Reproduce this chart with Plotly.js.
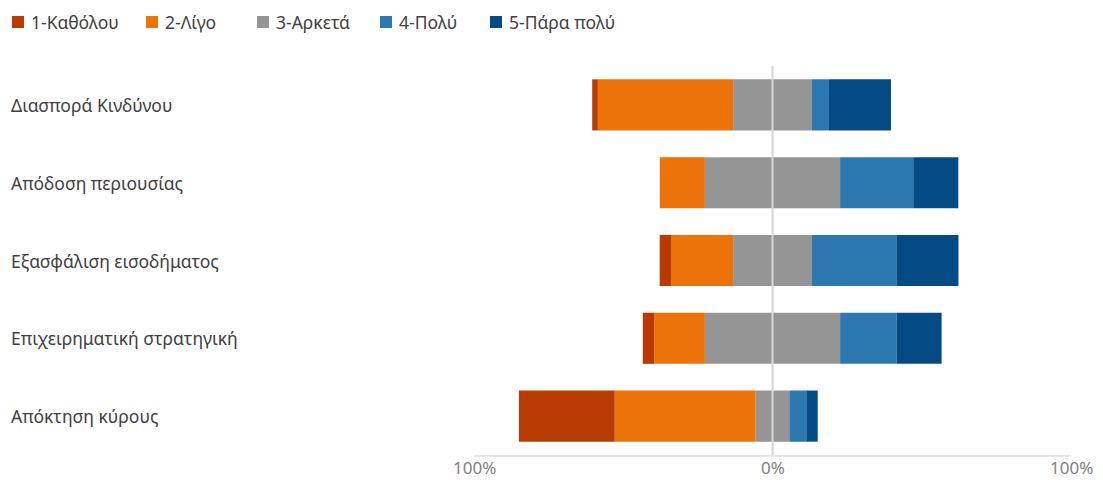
<!DOCTYPE html>
<html>
<head>
<meta charset="utf-8">
<script src="https://cdn.plot.ly/plotly-3.0.1.min.js"></script>
<style>html,body{margin:0;padding:0;background:#fff;}#chart{width:1103px;height:480px;}</style>
</head>
<body>
<div id="chart"></div>
<script>
const categories = ["Διασπορά Κινδύνου", "Απόδοση περιουσίας", "Εξασφάλιση εισοδήματος", "Επιχειρηματική στρατηγική", "Απόκτηση κύρους"];
const seriesNames = ["1-Καθόλου", "2-Λίγο", "3-Αρκετά", "4-Πολύ", "5-Πάρα πολύ"];
// percentages of respondents
const s1 = [1.9, 0.0, 3.8, 3.8, 32.1];
const s2 = [45.3, 15.1, 20.8, 17.0, 47.2];
const s3 = [26.4, 45.3, 26.4, 45.3, 11.3];
const s4 = [5.7, 24.5, 28.3, 18.9, 5.7];
const s5 = [20.8, 15.1, 20.8, 15.1, 3.8];
const tickVals = [-100, 0, 100];
const tickText = ["100%", "0%", "100%"];

const colors = ["#B83C02", "#EB730A", "#959595", "#2E78B2", "#044A85"];
const FONT = "'Noto Sans', 'Open Sans', sans-serif";
const FS = 17.5;

function bar(name, vals, color) {
  return {
    type: "bar", orientation: "h", name: name, y: categories, x: vals,
    marker: {color: color, line: {width: 0}},
    showlegend: false, hoverinfo: "name+x"
  };
}
const half3 = s3.map(v => v / 2);
const traces = [
  bar(seriesNames[2], half3.map(v => -v), colors[2]),
  bar(seriesNames[1], s2.map(v => -v), colors[1]),
  bar(seriesNames[0], s1.map(v => -v), colors[0]),
  bar(seriesNames[2], half3, colors[2]),
  bar(seriesNames[3], s4, colors[3]),
  bar(seriesNames[4], s5, colors[4])
];

const L = 474, R = 32, T = 66, B = 25, W = 1103, H = 480;
const pw = W - L - R, ph = H - T - B;
const px = x => (x - L) / pw;          // pixel -> paper x
const py = y => 1 - (y - T) / ph;      // pixel -> paper y

const annotations = categories.map(c => ({
  xref: "paper", yref: "y", x: px(9), y: c, xanchor: "left", yanchor: "middle",
  text: c, showarrow: false, font: {family: FONT, size: FS, color: "#404040"}
}));

// x tick labels as text placed on the x axis values
tickVals.forEach((v, i) => {
  annotations.push({
    xref: "x", yref: "paper", x: v, y: py(467), xanchor: "center", yanchor: "middle",
    text: tickText[i], showarrow: false, borderpad: 0,
    font: {family: FONT, size: 17, color: "#808080"}
  });
});

// legend drawn as shapes + text
const legendMarkerX = [18, 152, 263, 386, 496];
const legendY = 22;
const shapes = [];
seriesNames.forEach((n, i) => {
  const cx = legendMarkerX[i];
  shapes.push({
    type: "rect", xref: "paper", yref: "paper",
    x0: px(cx - 6), x1: px(cx + 6), y0: py(legendY + 6), y1: py(legendY - 6),
    fillcolor: colors[i], line: {width: 0}
  });
  annotations.push({
    xref: "paper", yref: "paper", x: px(cx + 11), y: py(legendY),
    xanchor: "left", yanchor: "middle", text: n, showarrow: false,
    font: {family: FONT, size: FS, color: "#404040"}
  });
});
shapes.push({
  type: "line", xref: "x", yref: "paper", x0: 0, x1: 0, y0: 0, y1: 1,
  line: {color: "#d9d9d9", width: 2}, layer: "above"
});

const layout = {
  width: W, height: H,
  margin: {l: L, r: R, t: T, b: B, pad: 0},
  paper_bgcolor: "#fff", plot_bgcolor: "#fff",
  barmode: "relative", bargap: 0.343,
  font: {family: FONT, size: FS, color: "#404040"},
  xaxis: {
    range: [-100, 100], tickvals: tickVals, ticktext: tickText, showticklabels: false,
    showgrid: true, gridcolor: "#ebebeb", gridwidth: 2, zeroline: false,
    showline: true, linecolor: "#e6e6e6", linewidth: 2, fixedrange: true
  },
  yaxis: {
    autorange: "reversed", showticklabels: false, showgrid: false, zeroline: false,
    fixedrange: true
  },
  showlegend: false,
  shapes: shapes,
  annotations: annotations
};

Plotly.newPlot("chart", traces, layout, {displayModeBar: false, staticPlot: true});
</script>
</body>
</html>
